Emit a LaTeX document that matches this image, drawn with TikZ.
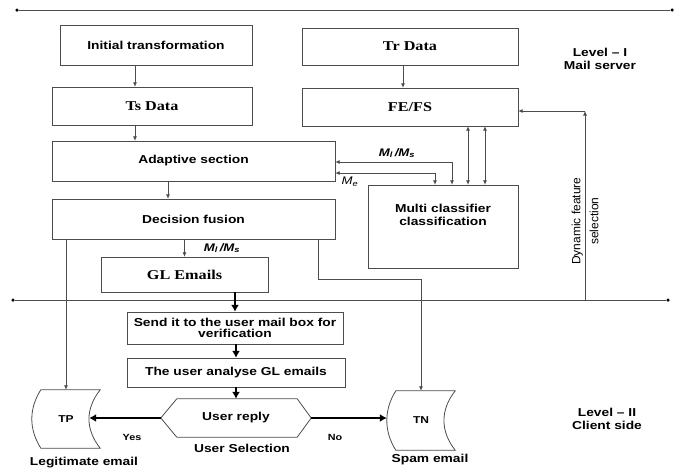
\documentclass[tikz,border=0pt]{standalone}
\usepackage{fontspec}
\setmainfont{Liberation Sans}[FakeStretch=1.2]
\newfontfamily\timesfont{Liberation Serif}[FakeStretch=1.2]
\newfontfamily\plainsans{Liberation Sans}
\usetikzlibrary{arrows.meta,calc}
\definecolor{linegray}{gray}{0.3}
\tikzset{
  box/.style   = {draw=linegray, rectangle, inner sep=0pt, align=center,
                  font=\bfseries\fontsize{11.5}{12.5}\selectfont},
  tbox/.style  = {box, font=\timesfont\bfseries\fontsize{13.5}{15}\selectfont},
  plain/.style = {inner sep=0pt, align=center,
                  font=\bfseries\fontsize{11.5}{13}\selectfont},
  small/.style = {inner sep=0pt, font=\bfseries\fontsize{9}{10}\selectfont},
  line/.style  = {draw=linegray, line width=0.8pt},
  sig/.style   = {line, -{Latex[length=4.5pt,width=4pt]}},
  dsig/.style  = {line, {Latex[length=4.5pt,width=4pt]}-{Latex[length=4.5pt,width=4pt]}},
  fat/.style   = {draw=black, line width=2.2pt, -{Latex[length=7pt,width=8pt]}},
  dot/.style   = {fill=black, circle, inner sep=0pt, minimum size=3.5pt},
}
% outline of a stored data box round node #1
\newcommand{\storedbox}[1]{%
  \draw[line] ($(#1.north west)+(9,0)$) -- (#1.north east)
    .. controls ($(#1.north east)+(-15,19)$) and ($(#1.south east)+(-15,-19)$) .. (#1.south east)
    -- ($(#1.south west)+(9,0)$)
    .. controls ($(#1.south west)+(-3,-19)$) and ($(#1.north west)+(-3,19)$) .. cycle;}

\begin{document}
\begin{tikzpicture}[x=1pt, y=-1pt]
\useasboundingbox (0,0) rectangle (678,475);
% ---------------- level lines ----------------
\node[dot] (top1) at (17,10) {};
\node[dot] (top2) at (672,10) {};
\node[dot] (mid1) at (13,300) {};
\node[dot] (mid2) at (668,300) {};
\draw[line] (top1) -- (top2);
\draw[line] (mid1) -- (mid2);
% ---------------- mail server ----------------
\node[box, minimum width=192, minimum height=40] (init) at (156,45) {Initial transformation};
\node[tbox, minimum width=200, minimum height=38] (ts) at (152,106) {Ts Data};
\node[box, minimum width=283, minimum height=40] (adapt) at (193.5,161) {Adaptive section};
\node[box, minimum width=283, minimum height=40] (fusion) at (193.5,219) {Decision fusion};
\node[tbox, minimum width=167, minimum height=35] (gl) at (184.5,274.5) {GL Emails};
\node[tbox, minimum width=216, minimum height=37] (tr) at (410,46.5) {Tr Data};
\node[tbox, minimum width=216, minimum height=38] (fefs) at (410,107) {FE/FS};
\node[box, minimum width=150, minimum height=83] (mcc) at (443,226.5) {};
\node[plain] (mcctext) at (443,215) {Multi classifier\\classification};
\node[plain] (lvl1) at (600,59) {Level -- I\\Mail server};
\draw[sig] (init.south -| 135,0) -- (ts.north -| 135,0);
\draw[sig] (ts.south -| 135,0) -- (adapt.north -| 135,0);
\draw[sig] (adapt.south -| 168,0) -- (fusion.north -| 168,0);
\draw[sig] ([xshift=-7]tr.south) -- ([xshift=-7]fefs.north);
\foreach \bx in {468,485}
  \draw[dsig] (fefs.south -| \bx,0) -- (mcc.north -| \bx,0);
\coordinate (mlsbend) at (452,162);
\coordinate (mebend) at (435,173);
\draw[dsig] (adapt.east |- mlsbend) -- (mlsbend) -- (mlsbend |- mcc.north);
\draw[dsig] (adapt.east |- mebend) -- (mebend) -- (mebend |- mcc.north);
\node[inner sep=0pt, font=\bfseries\itshape\fontsize{11}{12}\selectfont] (mls2) at (397,153) {M\textsubscript{l}\,/M\textsubscript{s}};
\node[inner sep=0pt, font=\itshape\fontsize{11}{12}\selectfont] (me) at (350,182) {M\textsubscript{e}};
\draw[sig] (fusion.south -| gl.north) -- (gl.north);
\node[inner sep=0pt, font=\bfseries\itshape\fontsize{11}{12}\selectfont] (mls1) at (222,248) {M\textsubscript{l}\,/M\textsubscript{s}};
% dynamic feature selection
\coordinate (dfsfoot) at (585,300);
\coordinate (dfstop) at (585,111);
\draw[sig] (dfsfoot) -- (dfstop);
\draw[sig] (dfstop) -- (fefs.east |- dfstop);
\node[rotate=90, inner sep=0pt, align=center, font=\plainsans\fontsize{12}{18}\selectfont] (dfs) at (585,221) {Dynamic feature\\selection};
% ---------------- client side ----------------
\node[box, minimum width=216, minimum height=32, font=\bfseries\fontsize{11.5}{11.5}\selectfont] (send) at (235,328) {Send it to the user mail box for\\verification};
\node[box, minimum width=218, minimum height=29] (analyse) at (236,372.5) {The user analyse GL emails};
\node[plain, minimum width=150, minimum height=38] (reply) at (236,418) {User reply};
\draw[line] (reply.west) -- ($(reply.north west)+(16,0)$) -- ($(reply.north east)+(-14,0)$)
  -- (reply.east) -- ($(reply.south east)+(-14,0)$) -- ($(reply.south west)+(16,0)$) -- cycle;
\node[plain, minimum width=68, minimum height=58, font=\bfseries\fontsize{10}{12}\selectfont] (tp) at (66,419) {TP};
\node[plain, minimum width=68, minimum height=59, font=\bfseries\fontsize{10}{12}\selectfont] (tn) at (421,420.5) {TN};
\storedbox{tp}
\storedbox{tn}
\coordinate (tpin) at ($(tp.east)+(-11,-1)$);
\draw[fat] (gl.south -| send.north) -- (send.north);
\draw[fat] (send.south -| analyse.north) -- (analyse.north);
\draw[fat] (analyse.south) -- (reply.north);
\draw[fat] (reply.west) -- (tpin);
\draw[fat] (reply.east) -- (reply.east -| tn.west);
\draw[sig] (fusion.south -| tp.north) -- (tp.north);
\coordinate (tnbend1) at (318,279);
\coordinate (tnbend2) at (tn.north |- tnbend1);
\draw[sig] (fusion.south -| tnbend1) -- (tnbend1) -- (tnbend2) -- (tn.north);
\node[small] (yes) at (132,437) {Yes};
\node[small] (no) at (335,437) {No};
\node[plain] (legit) at (84,463) {Legitimate email};
\node[plain] (usel) at (242,448) {User Selection};
\node[plain] (spam) at (430,460) {Spam email};
\node[plain] (lvl2) at (607,419) {Level -- II\\Client side};
\end{tikzpicture}
\end{document}
